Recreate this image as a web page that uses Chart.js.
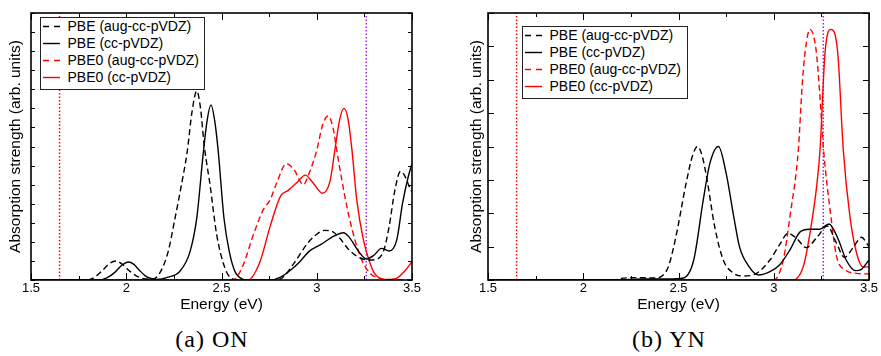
<!DOCTYPE html>
<html>
<head>
<meta charset="utf-8">
<script src="https://cdn.jsdelivr.net/npm/chart.js@4.4.1/dist/chart.umd.min.js"></script>
<style>
  body {
    margin: 0;
    width: 881px;
    height: 356px;
    background: #fff;
    position: relative;
    overflow: hidden;
    font-family: "Liberation Sans", Arial, sans-serif;
  }
  canvas { position: absolute; top: 0; }
  #onChart { left: 0; }
  #ynChart { left: 440px; }
  .legend {
    position: absolute;
    width: 165px;
    height: 73px;
    box-sizing: border-box;
    border: 1.5px solid #222;
    background: #fff;
  }
  .legend .row {
    position: absolute;
    left: 0;
    height: 17px;
    line-height: 17px;
    font-size: 14px;
    white-space: nowrap;
  }
  .legend svg { position: absolute; left: 1.5px; top: 7px; }
  .legend span { position: absolute; left: 26.5px; }
  .caption {
    position: absolute;
    top: 326px;
    font-family: "Liberation Serif", serif;
    font-size: 24px;
    letter-spacing: 1px;
    transform: translateX(-50%);
    white-space: nowrap;
  }
</style>
</head>
<body>
<canvas id="onChart" width="440" height="320"></canvas>
<canvas id="ynChart" width="441" height="320"></canvas>
<div class="legend" id="onLegend" style="left:40px; top:17px;"></div>
<div class="legend" id="ynLegend" style="left:522px; top:26px; width:166px;"></div>
<div class="caption" style="left:212px;">(a) ON</div>
<div class="caption" style="left:669px;">(b) YN</div>

<script>
//Absorption spectra, two panels

const eMin = 1.5;
const eMax = 3.5;
const eStep = 0.25;

const seriesNames = ["PBE (aug-cc-pVDZ)", "PBE (cc-pVDZ)", "PBE0 (aug-cc-pVDZ)", "PBE0 (cc-pVDZ)"];
const seriesColors = ["#000000", "#000000", "#ff0000", "#ff0000"];
const seriesDashed = [true, false, true, false];
const markerColors = ["#ff0000", "#a020f0"];

//(a) ON
const onYMax = 14;
const onMarkerE = [1.65, 3.26];

const onPbeAugE = [1.50, 1.79, 1.83, 1.87, 1.91, 1.945, 1.98, 2.02, 2.06, 2.10, 2.14, 2.18, 2.22, 2.256, 2.29, 2.32, 2.345, 2.37, 2.39, 2.41, 2.44, 2.475, 2.518, 2.55, 2.59, 2.78, 2.82, 2.88, 2.95, 3.00, 3.04, 3.08, 3.12, 3.17, 3.23, 3.28, 3.31, 3.35, 3.38, 3.41, 3.44, 3.46, 3.49, 3.50];
const onPbeAugA = [0, 0, 0.12, 0.45, 0.85, 1.0, 0.82, 0.45, 0.18, 0.06, 0.05, 0.44, 1.49, 3.24, 5.0, 6.73, 8.8, 9.91, 9.0, 7.0, 4.98, 2.36, 0.63, 0.1, 0, 0, 0.12, 0.87, 1.9, 2.4, 2.6, 2.55, 2.2, 1.57, 1.14, 1.05, 1.08, 1.5, 2.8, 4.7, 5.7, 5.5, 4.8, 4.6];

const onPbeE = [1.50, 1.86, 1.90, 1.94, 1.98, 2.01, 2.04, 2.07, 2.10, 2.13, 2.16, 2.22, 2.28, 2.335, 2.37, 2.405, 2.425, 2.445, 2.465, 2.483, 2.513, 2.541, 2.571, 2.61, 2.64, 2.76, 2.81, 2.86, 2.91, 2.96, 3.02, 3.09, 3.14, 3.17, 3.22, 3.26, 3.30, 3.34, 3.38, 3.42, 3.45, 3.48, 3.50];
const onPbeA = [0, 0, 0.12, 0.4, 0.8, 0.94, 0.82, 0.5, 0.22, 0.08, 0.03, 0.15, 0.44, 1.49, 3.24, 6.73, 8.4, 9.18, 8.3, 6.73, 3.24, 1.49, 0.44, 0.05, 0, 0, 0.15, 0.5, 0.95, 1.5, 1.85, 2.3, 2.48, 2.25, 1.5, 1.1, 1.3, 1.66, 1.52, 2.1, 4.0, 5.4, 6.1];

const onPbe0AugE = [1.50, 2.56, 2.61, 2.67, 2.72, 2.755, 2.79, 2.84, 2.88, 2.93, 2.96, 3.00, 3.03, 3.06, 3.085, 3.105, 3.12, 3.17, 3.23, 3.28, 3.33, 3.38, 3.50];
const onPbe0AugA = [0, 0, 0.7, 2.45, 3.7, 4.2, 5.1, 6.1, 5.8, 5.0, 5.6, 6.8, 8.1, 8.6, 8.0, 6.8, 5.9, 3.3, 1.2, 0.35, 0.1, 0, 0];

const onPbe0E = [1.50, 2.64, 2.70, 2.755, 2.81, 2.85, 2.895, 2.94, 2.98, 3.03, 3.07, 3.095, 3.12, 3.143, 3.165, 3.185, 3.21, 3.245, 3.28, 3.31, 3.37, 3.42, 3.46, 3.50];
const onPbe0A = [0, 0, 0.9, 2.8, 4.4, 4.7, 5.1, 5.5, 5.1, 4.55, 5.2, 6.8, 8.4, 9.0, 8.4, 6.8, 4.2, 2.1, 0.87, 0.26, 0.03, 0.1, 0.45, 0.96];

//(b) YN
const ynYMax = 8;
const ynMarkerE = [1.65, 3.26];

const ynPbeAugE = [1.50, 2.16, 2.20, 2.30, 2.38, 2.42, 2.45, 2.49, 2.54, 2.575, 2.60, 2.625, 2.65, 2.69, 2.735, 2.79, 2.84, 2.91, 2.98, 3.03, 3.075, 3.12, 3.17, 3.23, 3.28, 3.33, 3.37, 3.42, 3.46, 3.50];
const ynPbeAugA = [0, 0, 0.05, 0.07, 0.06, 0.15, 0.45, 1.4, 2.9, 3.75, 4.0, 3.7, 3.0, 1.6, 0.6, 0.2, 0.12, 0.2, 0.6, 1.05, 1.4, 1.25, 0.97, 1.3, 1.62, 1.1, 0.68, 1.0, 1.28, 1.0];

const ynPbeE = [1.50, 2.20, 2.30, 2.45, 2.525, 2.58, 2.63, 2.665, 2.71, 2.75, 2.79, 2.82, 2.87, 2.92, 2.98, 3.03, 3.085, 3.14, 3.19, 3.24, 3.29, 3.34, 3.38, 3.43, 3.46, 3.50];
const ynPbeA = [0, 0, 0.03, 0.03, 0.06, 0.6, 2.4, 3.5, 4.0, 3.2, 1.9, 1.0, 0.4, 0.15, 0.25, 0.45, 0.9, 1.45, 1.52, 1.52, 1.68, 1.2, 0.6, 0.28, 0.32, 0.6];

const ynPbe0AugE = [1.50, 3.00, 3.05, 3.085, 3.129, 3.15, 3.166, 3.19, 3.222, 3.24, 3.26, 3.30, 3.33, 3.375, 3.435, 3.50];
const ynPbe0AugA = [0, 0, 0.6, 1.9, 3.9, 5.9, 6.9, 7.51, 6.9, 5.7, 4.0, 1.9, 0.7, 0.3, 0.2, 0.18];

const ynPbe0E = [1.50, 3.10, 3.155, 3.19, 3.225, 3.243, 3.269, 3.30, 3.336, 3.365, 3.40, 3.435, 3.47, 3.50];
const ynPbe0A = [0, 0, 0.4, 1.4, 2.8, 3.9, 6.8, 7.51, 6.8, 3.9, 1.9, 0.8, 0.38, 0.4];

const toPoints = (e, a) => e.map((x, i) => ({ x: x, y: a[i] }));

//frame with inward ticks on all four sides
const frameTicks = {
  id: "frameTicks",
  afterDatasetsDraw(chart, args, opts) {
    const { ctx, chartArea: a, scales } = chart;
    const x = scales.x;
    const y = scales.y;
    ctx.save();
    ctx.strokeStyle = "#000";
    ctx.lineWidth = 1;
    ctx.beginPath();
    x.ticks.forEach((t) => {
      const px = Math.round(x.getPixelForValue(t.value)) + 0.5;
      const major = Math.abs(t.value * 2 - Math.round(t.value * 2)) < 1e-6;
      const len = major ? 7 : 4;
      ctx.moveTo(px, a.bottom);
      ctx.lineTo(px, a.bottom - len);
      ctx.moveTo(px, a.top);
      ctx.lineTo(px, a.top + len);
    });
    y.ticks.forEach((t) => {
      const py = Math.round(y.getPixelForValue(t.value)) + 0.5;
      ctx.moveTo(a.left, py);
      ctx.lineTo(a.left + opts.yTickLen, py);
      ctx.moveTo(a.right, py);
      ctx.lineTo(a.right - opts.yTickLen, py);
    });
    ctx.stroke();
    ctx.lineWidth = 1.6;
    ctx.strokeRect(a.left, a.top, a.right - a.left, a.bottom - a.top);
    ctx.restore();
  },
};

const makeChart = (id, curves, markers, yMax, axisWidth, padRight, titlePad, yTickLen) => {
  const datasets = curves.map((c, i) => ({
    label: seriesNames[i],
    data: toPoints(c[0], c[1]),
    borderColor: seriesColors[i],
    borderWidth: 1.4,
    borderDash: seriesDashed[i] ? [6, 3.5] : [],
    pointRadius: 0,
    cubicInterpolationMode: "monotone",
    fill: false,
    order: 0,
  }));
  markers.forEach((m, i) => {
    datasets.push({
      label: "marker" + i,
      data: [{ x: m, y: 0 }, { x: m, y: yMax }],
      borderColor: markerColors[i],
      borderWidth: 1.5,
      borderDash: [1.5, 2],
      pointRadius: 0,
      fill: false,
      order: 1,
    });
  });

  return new Chart(document.getElementById(id), {
    type: "line",
    data: { datasets: datasets },
    plugins: [frameTicks],
    options: {
      responsive: false,
      animation: false,
      events: [],
      layout: { padding: { top: 13, right: padRight, left: 0, bottom: 0 } },
      plugins: {
        legend: { display: false },
        tooltip: { enabled: false },
        frameTicks: { yTickLen: yTickLen },
      },
      scales: {
        x: {
          type: "linear",
          min: eMin,
          max: eMax,
          grid: { display: false, drawTicks: false },
          border: { display: false },
          ticks: {
            stepSize: eStep,
            autoSkip: false,
            maxRotation: 0,
            padding: 1,
            color: "#000",
            font: { family: "Liberation Sans", size: 13 },
            callback: (v) => (Math.abs(v * 2 - Math.round(v * 2)) < 1e-6 ? String(v) : ""),
          },
          title: {
            display: true,
            text: "Energy (eV)",
            color: "#000",
            font: { family: "Liberation Sans", size: 15.5 },
            padding: { top: 0, bottom: 6 },
          },
          afterFit: (scale) => {
            scale.height = 40;
          },
        },
        y: {
          type: "linear",
          min: 0,
          max: yMax,
          grid: { display: false, drawTicks: false },
          border: { display: false },
          ticks: { stepSize: 1, display: false },
          title: {
            display: true,
            text: "Absorption strength (arb. units)",
            color: "#000",
            font: { family: "Liberation Sans", size: 15.5 },
            padding: { top: titlePad, bottom: 0 },
          },
          afterFit: (scale) => {
            scale.width = axisWidth;
          },
        },
      },
    },
  });
};

makeChart(
  "onChart",
  [[onPbeAugE, onPbeAugA], [onPbeE, onPbeA], [onPbe0AugE, onPbe0AugA], [onPbe0E, onPbe0A]],
  onMarkerE, onYMax, 31, 28, 6, 4
);
makeChart(
  "ynChart",
  [[ynPbeAugE, ynPbeAugA], [ynPbeE, ynPbeA], [ynPbe0AugE, ynPbe0AugA], [ynPbe0E, ynPbe0A]],
  ynMarkerE, ynYMax, 48, 12, 27, 6
);

//legends inside the plot boxes
const buildLegend = (boxId) => {
  const box = document.getElementById(boxId);
  seriesNames.forEach((name, i) => {
    const row = document.createElement("div");
    row.className = "row";
    row.style.top = 17 * i + "px";
    const dash = seriesDashed[i] ? ' stroke-dasharray="6,5"' : "";
    row.innerHTML =
      '<svg width="17" height="3"><line x1="0" y1="1.5" x2="17" y2="1.5" stroke="' +
      seriesColors[i] + '" stroke-width="1.4"' + dash + "/></svg><span>" + name + "</span>";
    box.appendChild(row);
  });
};
buildLegend("onLegend");
buildLegend("ynLegend");
</script>
</body>
</html>
